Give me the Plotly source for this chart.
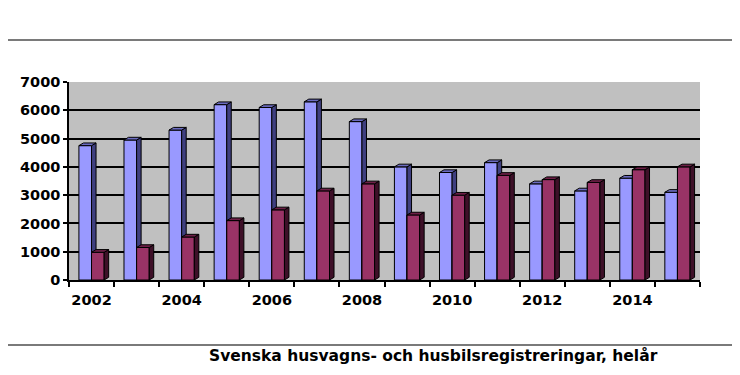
import plotly.graph_objects as go

# ---- data ----
years = list(range(2002, 2016))
husvagnar = [4750, 4950, 5300, 6200, 6100, 6300, 5600, 4000, 3800, 4150, 3400, 3150, 3600, 3100]
husbilar = [980, 1150, 1520, 2100, 2480, 3150, 3400, 2300, 3000, 3700, 3550, 3450, 3900, 4000]
y_tick_vals = [0, 1000, 2000, 3000, 4000, 5000, 6000, 7000]
x_label_years = [2002, 2004, 2006, 2008, 2010, 2012, 2014]
caption = "Svenska husvagns- och husbilsregistreringar, helår"

# ---- styling ----
BAR_W = 0.28
DX = 0.10      # 3D depth offset in category units
DY = 95        # 3D depth offset in value units
FONT = "DejaVu Sans"

series = [
    dict(vals=husvagnar, off=-BAR_W, front="#9999FF", side="#3F3F80", top="#6B6BC0"),
    dict(vals=husbilar, off=0.0, front="#993366", side="#3E1028", top="#6E1F47"),
]

fig = go.Figure()

# front faces as bars
for s in series:
    fig.add_trace(go.Bar(
        x=years, y=s["vals"], width=BAR_W, offset=s["off"],
        marker=dict(color=s["front"], line=dict(color="black", width=1)),
        showlegend=False, hoverinfo="skip"))


def poly_faces(vals, off):
    fx, fy, sx, sy, tx, ty = [], [], [], [], [], []
    for x, v in zip(years, vals):
        x0 = x + off
        x1 = x0 + BAR_W
        fx += [x0, x1, x1, x0, x0, None]
        fy += [0, 0, v, v, 0, None]
        sx += [x1, x1 + DX, x1 + DX, x1, x1, None]
        sy += [0, DY, v + DY, v, 0, None]
        tx += [x0, x0 + DX, x1 + DX, x1, x0, None]
        ty += [v, v + DY, v + DY, v, v, None]
    return fx, fy, sx, sy, tx, ty


for i, s in enumerate(series):
    fx, fy, sx, sy, tx, ty = poly_faces(s["vals"], s["off"])
    faces = [(sx, sy, s["side"]), (tx, ty, s["top"])]
    if i > 0:
        faces = [(fx, fy, s["front"])] + faces
    for px, py, col in faces:
        fig.add_trace(go.Scatter(
            x=px, y=py, mode="lines", fill="toself", fillcolor=col,
            line=dict(color="black", width=1), showlegend=False, hoverinfo="skip"))

# layout geometry (pixels, in window coordinates; page body has 8px margin)
OFF = 8
W, H = 740 - OFF, 375 - OFF
PL, PR, PT, PB = 67, 700, 82, 280          # plot area in window pixels
ML, MR, MT, MB = PL - OFF, (W + OFF) - PR, PT - OFF, (H + OFF) - PB
PW = PR - PL
PH = PB - PT


def px_x(p):
    return (p - PL) / PW


def px_y(p):
    return (PB - p) / PH


tickfont = dict(family=FONT, size=14.5, color="black", weight="bold")

fig.update_layout(
    width=W, height=H, autosize=False,
    margin=dict(l=ML, r=MR, t=MT, b=MB, pad=0),
    paper_bgcolor="white", plot_bgcolor="#C0C0C0",
    barmode="overlay",
    xaxis=dict(
        range=[2001.5, 2015.5], tickvals=x_label_years,
        ticktext=[str(y) for y in x_label_years],
        ticks="", showgrid=False, zeroline=False,
        showline=True, linecolor="black", linewidth=1.5,
        tickfont=tickfont, ticklabelstandoff=6,
        minor=dict(ticks="outside", tick0=2001.5, dtick=1, ticklen=5,
                   tickcolor="black", tickwidth=1.5, showgrid=False),
    ),
    yaxis=dict(
        range=[0, 7000], tickvals=y_tick_vals,
        ticks="outside", ticklen=4, tickcolor="black", tickwidth=1.5,
        showgrid=True, gridcolor="black", gridwidth=1.5, zeroline=False,
        showline=True, linecolor="black", linewidth=1.5,
        tickfont=tickfont,
    ),
    shapes=[
        dict(type="line", xref="paper", yref="paper",
             x0=px_x(0), x1=px_x(740), y0=px_y(40), y1=px_y(40),
             line=dict(color="#7A7A7A", width=2)),
        dict(type="line", xref="paper", yref="paper",
             x0=px_x(0), x1=px_x(740), y0=px_y(345), y1=px_y(345),
             line=dict(color="#7A7A7A", width=2)),
    ],
    annotations=[
        dict(text=caption, xref="paper", yref="paper",
             x=px_x(433), y=px_y(355), xanchor="center", yanchor="middle",
             showarrow=False,
             font=dict(family=FONT, size=15.5, color="black", weight="bold")),
    ],
)

fig.write_html("out.html")
